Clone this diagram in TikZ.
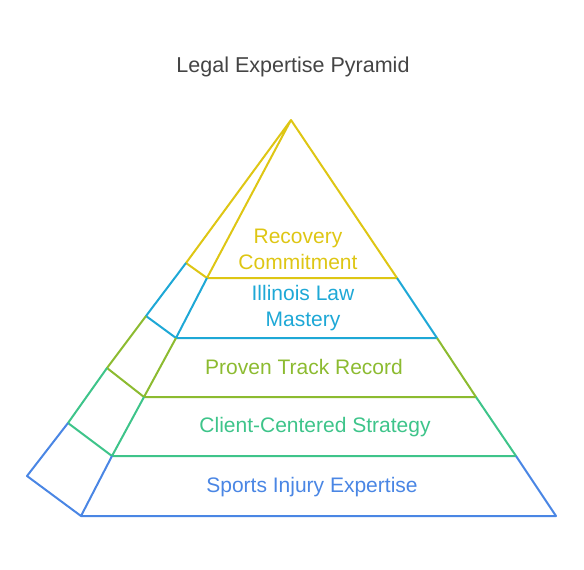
\documentclass[tikz,border=0pt]{standalone}
\usepackage{fontspec}
\setmainfont{Liberation Sans}
\definecolor{recov}{RGB}{222,198,20}
\definecolor{illin}{RGB}{30,168,214}
\definecolor{proven}{RGB}{140,187,48}
\definecolor{client}{RGB}{62,196,138}
\definecolor{sports}{RGB}{74,134,228}
\definecolor{titlegray}{RGB}{68,68,68}
\begin{document}
\begin{tikzpicture}[x=1pt,y=-1pt,line width=2pt,line join=round,
  lbl/.style={align=center,font=\fontsize{21}{26}\selectfont}]
\useasboundingbox (0,0) rectangle (584,570);
\node[text=titlegray,font=\fontsize{21.5}{24}\selectfont] (title) at (293,67) {Legal Expertise Pyramid};
% apex and level points:
\coordinate (apex) at (291,120);
\coordinate (f1) at (207,278);\coordinate (r1) at (397,278);\coordinate (b1) at (186,263);
\coordinate (f2) at (176,338);\coordinate (r2) at (437,338);\coordinate (b2) at (146,316);
\coordinate (f3) at (144,397);\coordinate (r3) at (476,397);\coordinate (b3) at (107,368);
\coordinate (f4) at (112,456);\coordinate (r4) at (516,456);\coordinate (b4) at (68,423);
\coordinate (f5) at (81,516);\coordinate (r5) at (556,516);\coordinate (b5) at (27,476);
% layers, top to bottom:
\draw[recov] (apex) -- (f1) -- (r1) -- cycle (apex) -- (b1) -- (f1);
\draw[illin] (f1) -- (f2) -- (r2) -- (r1) (b1) -- (b2) -- (f2);
\draw[proven] (f2) -- (f3) -- (r3) -- (r2) (b2) -- (b3) -- (f3);
\draw[client] (f3) -- (f4) -- (r4) -- (r3) (b3) -- (b4) -- (f4);
\draw[sports] (f4) -- (f5) -- (r5) -- (r4) (b4) -- (b5) -- (f5);
% labels:
\node[lbl,text=recov] (recovery) at (298,249) {Recovery\\Commitment};
\node[lbl,text=illin] (illinois) at (303,308) {Illinois Law\\Mastery};
\node[lbl,text=proven] (track) at (304,367) {Proven Track Record};
\node[lbl,text=client] (strategy) at (315,427) {Client-Centered Strategy};
\node[lbl,text=sports] (injury) at (312,487) {Sports Injury Expertise};
\end{tikzpicture}
\end{document}
